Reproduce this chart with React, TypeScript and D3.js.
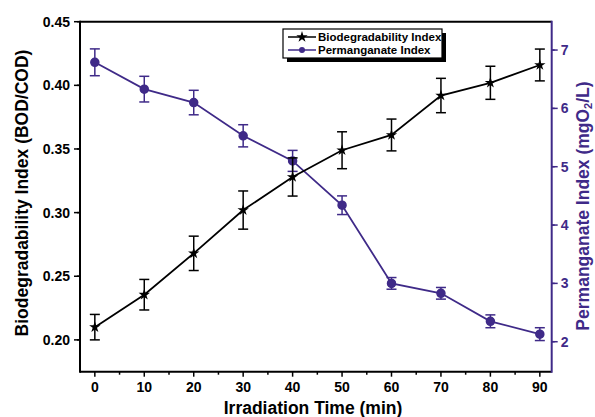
import React from "react";
import * as d3 from "d3";

const times = [0, 10, 20, 30, 40, 50, 60, 70, 80, 90];
const bioIndex = [0.210, 0.2355, 0.268, 0.302, 0.328, 0.349, 0.361, 0.392, 0.402, 0.416];
const bioErr = [0.010, 0.012, 0.0135, 0.015, 0.015, 0.0145, 0.0125, 0.0135, 0.013, 0.0125];
const permIndex = [6.79, 6.33, 6.10, 5.53, 5.10, 4.34, 3.00, 2.83, 2.35, 2.13];
const permErr = [0.23, 0.22, 0.21, 0.19, 0.18, 0.16, 0.10, 0.10, 0.11, 0.11];
const xTicks = [0, 10, 20, 30, 40, 50, 60, 70, 80, 90];
const leftTicks = [0.20, 0.25, 0.30, 0.35, 0.40, 0.45];
const rightTicks = [2, 3, 4, 5, 6, 7];

const PURPLE = "#3f2a88";
const FONT = "Arial, 'Liberation Sans', sans-serif";

export default function App() {
  const W = 595, H = 417;
  const L = 80, R = 551.7, T = 21.7, B = 371.7;
  const x = d3.scaleLinear().domain([-3, 92.4]).range([L, R]);
  const yL = d3.scaleLinear().domain([0.175, 0.45]).range([B, T]);
  const yR = d3.scaleLinear().domain([1.486, 7.486]).range([B, T]);

  const xMinor = d3.range(5, 95, 10);
  const lMinor = d3.range(0.175, 0.45, 0.05).map(v => +v.toFixed(3));
  const rMinor = d3.range(1.5, 7.5, 1);

  const bioLine = d3.line<number>().x((_, i) => x(times[i])).y(d => yL(d))(bioIndex) || "";
  const permLine = d3.line<number>().x((_, i) => x(times[i])).y(d => yR(d))(permIndex) || "";

  const star = d3.symbol().type(d3.symbolStar).size(40)() || "";
  const capW = 5;

  return (
    <svg width={W} height={H} style={{ position: "absolute", left: 0, top: 0, background: "#fff" }} fontFamily={FONT}>
      {/* frame */}
      <line x1={L} x2={R} y1={T} y2={T} stroke="#000" strokeWidth={2} />
      <line x1={L} x2={R} y1={B} y2={B} stroke="#000" strokeWidth={2} />
      <line x1={L} x2={L} y1={T - 1} y2={B + 1} stroke="#000" strokeWidth={2} />
      <line x1={R} x2={R} y1={T - 1} y2={B + 1} stroke={PURPLE} strokeWidth={2} />

      {/* x ticks */}
      {xTicks.map(t => (
        <g key={"x" + t}>
          <line x1={x(t)} x2={x(t)} y1={B} y2={B + 5} stroke="#000" strokeWidth={1.5} />
          <text x={x(t)} y={B + 20.5} textAnchor="middle" fontSize={14} fontWeight="bold">{t}</text>
        </g>
      ))}
      {xMinor.map(t => (
        <line key={"xm" + t} x1={x(t)} x2={x(t)} y1={B} y2={B + 3} stroke="#000" strokeWidth={1.5} />
      ))}

      {/* left ticks */}
      {leftTicks.map(t => (
        <g key={"l" + t}>
          <line x1={L - 6} x2={L} y1={yL(t)} y2={yL(t)} stroke="#000" strokeWidth={1.5} />
          <text x={L - 10} y={yL(t) + 5} textAnchor="end" fontSize={14} fontWeight="bold">{t.toFixed(2)}</text>
        </g>
      ))}
      {lMinor.map(t => (
        <line key={"lm" + t} x1={L - 3} x2={L} y1={yL(t + 0.025)} y2={yL(t + 0.025)} stroke="#000" strokeWidth={1.5} />
      ))}

      {/* right ticks */}
      {rightTicks.map(t => (
        <g key={"r" + t}>
          <line x1={R} x2={R + 6} y1={yR(t)} y2={yR(t)} stroke={PURPLE} strokeWidth={1.5} />
          <text x={R + 9} y={yR(t) + 5} textAnchor="start" fontSize={14} fontWeight="bold" fill={PURPLE}>{t}</text>
        </g>
      ))}
      {rMinor.map(t => (
        <line key={"rm" + t} x1={R} x2={R + 3} y1={yR(t + 0.5)} y2={yR(t + 0.5)} stroke={PURPLE} strokeWidth={1.5} />
      ))}

      {/* axis titles */}
      <text transform={`translate(28,193) rotate(-90)`} textAnchor="middle" fontSize={17.5} fontWeight="bold">Biodegradability Index (BOD/COD)</text>
      <text transform={`translate(589,206) rotate(-90)`} textAnchor="middle" fontSize={17.5} fontWeight="bold" fill={PURPLE}>
        Permanganate Index (mgO<tspan fontSize={11} dy={3}>2</tspan><tspan dy={-3}>/L)</tspan>
      </text>
      <text x={313} y={414} textAnchor="middle" fontSize={17.5} fontWeight="bold">Irradiation Time (min)</text>

      {/* permanganate series */}
      <path d={permLine} fill="none" stroke={PURPLE} strokeWidth={1.8} />
      {permIndex.map((v, i) => {
        const cx = x(times[i]);
        const y1 = yR(v + permErr[i]), y2 = yR(v - permErr[i]);
        return (
          <g key={"p" + i} stroke={PURPLE} strokeWidth={1.5}>
            <line x1={cx} x2={cx} y1={y1} y2={y2} />
            <line x1={cx - capW} x2={cx + capW} y1={y1} y2={y1} />
            <line x1={cx - capW} x2={cx + capW} y1={y2} y2={y2} />
            <circle cx={cx} cy={yR(v)} r={4} fill={PURPLE} />
          </g>
        );
      })}

      {/* biodegradability series */}
      <path d={bioLine} fill="none" stroke="#000" strokeWidth={1.8} />
      {bioIndex.map((v, i) => {
        const cx = x(times[i]);
        const y1 = yL(v + bioErr[i]), y2 = yL(v - bioErr[i]);
        return (
          <g key={"b" + i} stroke="#000" strokeWidth={1.5}>
            <line x1={cx} x2={cx} y1={y1} y2={y2} />
            <line x1={cx - capW} x2={cx + capW} y1={y1} y2={y1} />
            <line x1={cx - capW} x2={cx + capW} y1={y2} y2={y2} />
            <path d={star} transform={`translate(${cx},${yL(v)})`} fill="#000" stroke="none" />
          </g>
        );
      })}

      {/* legend */}
      <g>
        <rect x={287} y={33} width={159} height={29} fill="#000" />
        <rect x={283} y={29} width={159} height={29} fill="#fff" stroke="#000" strokeWidth={1.2} />
        <line x1={288} x2={316} y1={37} y2={37} stroke="#000" strokeWidth={1.5} />
        <path d={star} transform="translate(302,37)" fill="#000" />
        <text x={318} y={41} fontSize={11.5} fontWeight="bold">Biodegradability Index</text>
        <line x1={288} x2={316} y1={50} y2={50} stroke={PURPLE} strokeWidth={1.5} />
        <circle cx={302} cy={50} r={3} fill={PURPLE} />
        <text x={318} y={54} fontSize={11.5} fontWeight="bold">Permanganate Index</text>
      </g>
    </svg>
  );
}
